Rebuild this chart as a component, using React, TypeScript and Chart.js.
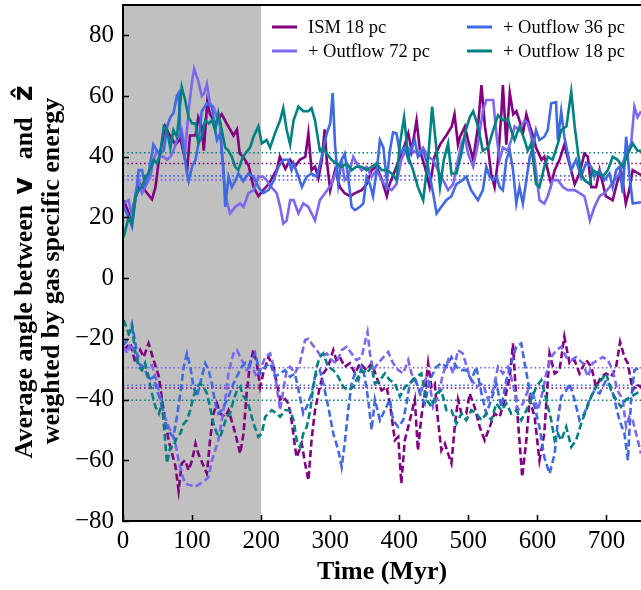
import React, { useEffect, useRef } from 'react';
import { Chart, registerables } from 'chart.js';

Chart.register(...registerables);

// ---------- data: [time (Myr), angle (deg)] ----------
// solid lines: positive branch
const ism18Pos: number[][] = [
  [1, 25.7], [10.7, 20.2], [20, 28], [25, 31], [35, 28], [42, 26], [47, 30], [52, 39], [61, 50], [68, 47],
  [76, 44], [83, 46], [90, 39], [93, 36], [97, 47], [105, 47], [109, 53], [114, 50], [117, 42], [122, 58],
  [126, 54], [134, 51], [143, 54], [150, 51], [160, 47], [165, 49], [169, 41], [174, 40], [182, 37], [189, 30],
  [196, 27], [203, 29], [211, 31], [223, 36], [227, 40], [235, 36], [242, 39], [249, 36.7], [256, 39], [264, 40],
  [268.4, 47.7], [273, 35.6], [278, 36.7], [283, 33], [288, 39], [292, 49], [295, 39], [300, 29], [307, 35.6], [314, 30],
  [321, 28], [329, 27], [336, 28], [345.5, 29], [353, 31], [360, 35.6], [367, 36.7], [374, 33], [382, 27], [386, 31],
  [394, 35.6], [401, 40], [408, 44], [413, 47.7], [418, 42], [425, 52], [430, 42], [437, 36.7], [444, 30], [451, 40],
  [459, 44], [468, 47], [476, 50], [480, 54], [485, 44], [488, 46.6], [495, 50], [499.6, 45.5], [507, 39], [514, 50],
  [519, 63.6], [524, 50], [528.5, 43], [533, 34.5], [538, 30], [543, 39], [548, 55], [550, 63.6], [555, 44], [560, 61],
  [565, 54], [569.5, 55], [574, 52], [579, 47.7], [584, 54], [589, 50], [594, 46.6], [598, 43], [606, 39], [610, 40],
  [615, 35.6], [620, 31], [625, 35.6], [632, 39], [639, 44], [646, 38], [654, 31], [661, 34.5], [668, 41], [673, 40],
  [678, 30], [685, 30], [690, 35.6], [699, 27], [709, 25.7], [716, 32], [721, 35.6], [728, 24.6], [733, 29], [738, 35.6],
  [750, 34],
];
const out72Pos: number[][] = [
  [1, 24.6], [8.3, 25.7], [13, 20.2], [18, 28], [22.7, 32.3], [27.5, 28], [32, 30], [39.6, 33.4], [44.4, 39], [49, 42],
  [54, 40], [59, 40], [63.7, 39], [68.5, 40], [73, 42], [78, 45.5], [85, 48.8], [90, 42], [95, 55], [100, 65],
  [103, 69], [109, 65], [114, 60], [117.6, 61], [121.5, 64], [126, 57.6], [131, 56.5], [136, 53], [140.7, 50], [145.6, 33.4],
  [150, 25.7], [155, 21.3], [162.4, 23.5], [169.7, 24.6], [174.5, 23.5], [181.7, 28], [189, 29], [196, 33.4], [203, 33.4], [208, 32.3],
  [215, 30], [222.6, 28], [227.5, 23.5], [232, 18], [237, 19], [242, 25.7], [247, 25.7], [254, 21.3], [261, 24.6], [268.4, 23.5],
  [278, 19], [285, 25.7], [292.5, 28], [302, 31], [309, 35.6], [316.6, 39], [321, 32.3], [326, 33.4], [333.4, 40], [338, 38],
  [345.5, 35.6], [352.7, 36.7], [360, 33.4], [367, 35.6], [374.4, 32.3], [381.6, 30], [389, 29], [396, 31], [403, 39], [410.5, 43],
  [420, 42], [427.4, 41], [434.6, 43], [441.8, 40], [449, 39], [456, 35.6], [463.5, 32.3], [470.7, 29], [478, 31], [485, 39],
  [490, 44.4], [495, 46.6], [499.6, 41], [507, 36.7], [514, 44.4], [521, 55], [526, 58.7], [536, 58.7], [541, 46.6], [545.4, 39],
  [550, 43], [557, 42], [562, 45.5], [567, 50], [574, 48.8], [581.5, 52], [586, 51], [591, 46.6], [596, 39], [603, 25.7],
  [610, 24.6], [615, 27], [622, 32.3], [629.7, 32.3], [637, 30], [644, 29], [654, 29], [661, 28], [668, 27], [673, 22.4],
  [676, 19], [682.7, 23.5], [690, 27], [697, 28], [704.4, 30], [711.6, 32.3], [719, 34.5], [723.6, 38], [728.5, 41], [735.7, 44.4],
  [740.5, 56.5], [745, 53], [750, 55],
];
const out36Pos: number[][] = [
  [1, 23.5], [8.3, 20], [13, 17], [18, 25.7], [22.7, 35.6], [27.5, 35.6], [32, 31], [37, 34.5], [44, 44], [49, 42],
  [54, 41], [59, 42], [64, 50], [68.5, 53], [73, 54.3], [78, 60], [80.5, 61], [83, 48.8], [88, 42], [92.6, 34.5],
  [95, 32], [100, 36.7], [105, 39], [109, 44], [114, 55], [121.5, 57.6], [128.7, 56.5], [133.5, 48.8], [136, 45.5], [140.7, 47.7],
  [145.6, 35.6], [148, 23.5], [152.8, 33.4], [157.6, 30], [162.4, 32], [167, 34.5], [174, 32], [181.7, 34.5], [189, 33.4], [196, 30],
  [203, 28], [210.6, 29], [218, 32], [225, 36.7], [232, 39], [239.5, 39], [244, 35.6], [247, 37.8], [254, 33.4], [259, 30],
  [266, 33.4], [273, 34.5], [280.5, 33.4], [287.6, 40], [295, 47.7], [300, 51], [303.6, 61], [307, 44], [311.7, 31], [316.5, 39],
  [321, 41], [326, 33.4], [331, 23.5], [336, 22.4], [343, 23.5], [348, 24.6], [352.7, 33.4], [357.5, 31], [362, 27], [368, 36.7],
  [372, 45.5], [377, 43], [382, 32], [386.4, 42], [391, 48], [396, 47.7], [401, 41], [408, 43], [413, 39], [417.7, 43],
  [422.5, 45.5], [427, 40], [434.6, 42], [441.8, 36.7], [449, 28], [454, 21.3], [461, 23.5], [468, 25.7], [475.5, 27], [482.7, 31],
  [490, 32], [497, 33.4], [504, 29], [514, 25.7], [521, 29], [526, 36.7], [531, 33.4], [536, 32.3], [541, 33.4], [545.4, 30],
  [550, 29], [555, 39], [560, 42], [564.7, 35.6], [569.5, 24.6], [574, 30], [579, 24.6], [584, 32.3], [589, 40], [593.6, 43],
  [598, 48.8], [603, 45.5], [610, 46.6], [615, 48.8], [620, 57.6], [627, 58], [629.7, 45.5], [634.5, 55], [639, 46.6], [644, 41],
  [649, 35.6], [656, 39], [663, 33.4], [670.6, 38], [678, 36.7], [682.7, 33.4], [690, 35.6], [697, 32.3], [704.4, 34.5], [709, 30],
  [714, 35.6], [719, 36.7], [723.6, 28], [728.5, 46.6], [733, 34.5], [738, 24.6], [750, 25],
];
const out18Pos: number[][] = [
  [1, 13.6], [8.3, 20.2], [13, 18], [18, 26.8], [22.7, 29], [27.5, 30], [32, 33.4], [37, 34.5], [44.4, 39], [49, 37.8],
  [54, 41], [59, 50], [63.7, 48.8], [68.5, 43], [73, 48.8], [78, 46.6], [80.5, 52], [85, 63], [90, 58.7], [95, 53],
  [100, 51], [105, 51], [109, 44.4], [114, 46.6], [119, 52], [124, 51], [128.7, 52], [133.5, 48.8], [138, 54.3], [143, 48.8],
  [148, 43], [152.8, 42], [157.6, 40], [162.4, 36.7], [167, 35.6], [172, 39], [176.9, 41], [184, 43], [189, 46.6], [196, 50],
  [201, 44.4], [208, 45.5], [213, 43], [220, 47.7], [227.5, 52], [232, 56], [237, 48.8], [242, 44], [247, 52], [254, 56.5],
  [261, 55], [268.4, 55], [273, 56], [278, 52], [285, 42], [290, 43], [295, 41], [302, 39], [309, 37.8], [316.6, 36.7],
  [324, 37.8], [331, 35.6], [338, 36.7], [345.5, 36.7], [352.7, 35.6], [360, 36.7], [367, 37.8], [374.4, 35.6], [381.6, 35.6], [389, 34.5],
  [396, 32.3], [401, 44.4], [407, 53], [413, 40], [420, 35.6], [427, 30], [434.6, 25.7], [442, 40], [447.6, 56.5], [454, 42],
  [459, 30], [464.5, 39], [470.7, 44.4], [475.5, 34.5], [482.7, 34.5], [490, 41], [495, 47.7], [502, 53], [507, 55], [514, 50],
  [521, 42], [528.5, 43], [536, 48.8], [543, 53.7], [550, 52], [557, 52.6], [562, 48.8], [567, 45.5], [574, 50], [581.5, 45.5],
  [586, 42], [591, 44.4], [598, 31], [603, 30], [610, 36.7], [615, 40], [622, 39], [629.7, 44.4], [634.5, 48.8], [642, 50],
  [649, 61.4], [654, 50], [659, 41], [663.4, 34.5], [668, 32.3], [675.5, 31], [680, 35.6], [687.5, 34.5], [694.7, 33.4], [702, 35.6],
  [709, 40], [716, 39], [723.6, 36.7], [731, 41], [738, 44.4], [745, 42], [750, 42],
];

// dashed lines: negative branch
const ism18Neg: number[][] = [
  [1, -23.7], [10.7, -21.5], [18, -28], [25, -23.7], [30, -26], [37, -21.5], [44.4, -27], [52, -32.5], [56.5, -40], [61, -46.8],
  [66, -53.4], [71, -57.8], [76, -62], [80.5, -70], [85, -61], [90, -60], [95, -63.3], [100, -60], [105, -54.5], [109, -57.8],
  [117, -62], [121.5, -64.4], [126, -53.4], [131, -44.6], [136, -41.3], [140.7, -44.6], [148, -45.7], [152.8, -43.5], [160, -49], [165, -53.4],
  [169.7, -57.8], [174.5, -51.2], [179, -38], [184, -28], [189, -23.7], [193.7, -28], [198.6, -35.8], [203, -31.4], [210.6, -26], [218, -29.2],
  [222.6, -34.7], [227.5, -40], [232, -39], [239.5, -41.3], [244, -46.8], [249, -55.6], [251.5, -59], [258.8, -54.5], [263.6, -61], [268.4, -66.6],
  [273, -53.4], [278, -43.5], [285, -35.8], [290, -31.4], [297, -29.2], [304.5, -23.7], [309, -27], [314, -26], [321, -29.2], [328.6, -28],
  [336, -31.4], [343, -28], [352.7, -30.3], [360, -28], [367, -32.5], [374.4, -37], [381.6, -35.8], [386.4, -41.3], [393.6, -53.4], [398.5, -52.3],
  [403, -67.7], [408, -53.4], [413, -49], [417.7, -44.6], [422.5, -40], [427, -56.7], [432, -45.7], [437, -38], [441.8, -28], [446.6, -35.8],
  [451.4, -34.7], [456, -46.8], [461, -56.7], [466, -54.5], [470.7, -57.8], [475.5, -61], [480.3, -49], [485, -40], [490, -44.6], [497, -44.6],
  [502, -38], [509, -42.4], [516.5, -49], [523.7, -53.4], [531, -49], [538, -44.6], [545.4, -45.7], [552.6, -40], [560, -32.5], [564.6, -21.5],
  [569.4, -40], [574, -53.4], [578, -65.5], [584, -53.4], [588.7, -40], [596, -45.7], [603, -60], [610, -51.2], [617.6, -24.8], [625, -31.4],
  [632, -30.3], [639, -19.3], [646.5, -28], [653.7, -27], [661, -31.4], [670.6, -27], [678, -29.2], [685, -35.8], [692.3, -32.5], [699.5, -31.4],
  [706.7, -32.5], [714, -29.2], [719.7, -21], [726, -26], [730.8, -28], [738, -37], [743, -35], [750, -35.8],
];
const out72Neg: number[][] = [
  [1, -22.6], [6, -24.8], [10.7, -21.5], [15.5, -23.7], [22.7, -28], [30, -29.2], [37, -29.2], [42, -28.7], [47, -32.5], [52, -37],
  [56.5, -42.4], [61, -45.7], [66, -49], [71, -51.2], [76, -54.5], [80.5, -60], [85, -64.4], [90, -67.7], [97.4, -68.2], [104.6, -68.8],
  [111.8, -67.7], [119, -66.6], [124, -65.5], [128.7, -60], [133.5, -56.7], [138, -53.4], [143, -46.8], [148, -40], [152.8, -31.4], [155, -29.2],
  [160, -24.8], [165, -23.7], [169.7, -26], [174.5, -28], [179, -30.3], [184, -29.2], [189, -30.3], [193.7, -32.5], [198.6, -30.3], [205.8, -26],
  [213, -24.8], [218, -29.2], [222.6, -35.8], [227.5, -43.5], [232, -37], [237, -30.3], [242, -29.2], [249, -31.4], [256, -28], [263.6, -20.4],
  [268.4, -20], [273, -21.5], [280.5, -23.7], [287.6, -26], [295, -24.8], [302, -27], [309, -28], [316.6, -23.7], [324, -22.6], [331, -24.8],
  [338, -27], [345.5, -26], [350, -21.5], [354, -17.7], [357.5, -24.8], [362, -30.3], [369.5, -28], [377, -26], [384, -24.3], [391, -28],
  [398.5, -30.3], [405.7, -31.4], [413, -27], [417.7, -31.4], [425, -34.7], [432, -37], [439.4, -32.5], [444, -34.7], [449, -42.4], [456, -39],
  [463.5, -31.4], [470.7, -27], [478, -31.4], [485, -23.7], [492, -24.8], [502, -32.5], [511.6, -35.8], [521.3, -34.7], [528.5, -40], [535.7, -37],
  [543, -29.2], [550, -31.4], [557.4, -29.2], [564.6, -34.7], [571.9, -43.5], [579, -41.3], [586.3, -37], [593.6, -38], [600.8, -43.5], [608, -37],
  [612.8, -31.4], [620, -26], [627.3, -23.7], [634.5, -22.6], [641.7, -26], [649, -27], [656, -26], [665.8, -28], [673, -32.5], [680, -28],
  [687.5, -27], [694.7, -26], [702, -27], [709, -30.3], [716, -37], [723.6, -40], [728.4, -49], [733, -45.7], [738, -46.8], [743, -51.2],
  [750, -57.8],
];
const out36Neg: number[][] = [
  [1, -22], [6, -20.4], [13, -15], [18, -21.5], [22.7, -28], [27.5, -29.2], [32, -30.3], [37, -33.6], [44.4, -32.5], [49, -37],
  [54, -40], [59, -45.7], [63.7, -49], [68.5, -51.2], [73, -52.3], [78, -45.7], [83, -38], [88, -29.2], [92.6, -24.8], [97.4, -29.2],
  [102, -35.8], [107, -39], [111.8, -34.7], [119, -28], [124, -30.3], [128.7, -34.7], [133.5, -41.3], [138, -44.6], [143, -43.5], [148, -41.3],
  [152.8, -39], [160, -34.7], [167, -31.4], [172, -29.2], [176.9, -28], [181.7, -29.2], [186.5, -27], [191.3, -24.8], [198.6, -31.4], [205.8, -29.2],
  [213, -28], [220, -32.5], [227.5, -31.4], [234.6, -30.3], [242, -32.5], [249, -31.4], [256, -39], [261, -44.6], [266, -42.4], [273, -38],
  [278, -32.5], [285, -30.3], [290, -34.7], [295, -40], [300, -45.7], [304.5, -51.2], [311.7, -56.7], [316.6, -62.2], [321, -54.5], [326, -43.5],
  [331, -34.7], [336, -31.4], [341, -33.6], [345.5, -29.2], [350, -32.5], [355, -40], [360, -50], [364.7, -40], [372, -46.8], [379, -43.5],
  [386.4, -40], [391, -46.8], [398.4, -49], [405.7, -46.8], [410.5, -41.3], [415.3, -34.7], [422.5, -32.5], [429.8, -38], [437, -41.3], [444, -33.6],
  [453.8, -29.2], [461, -28], [468, -29.2], [475.5, -26], [482.7, -29.2], [490, -30.3], [497, -30.3], [504.4, -33.6], [511.6, -29.2], [519, -38],
  [526, -44.6], [533.3, -40], [540.5, -34.7], [547.8, -42.4], [555, -33.6], [562.2, -28], [569.4, -22.6], [576.7, -21.5], [581.5, -28], [588.7, -37],
  [596, -42.4], [603, -49], [610, -59], [617.6, -64.4], [625, -57.8], [629.7, -46.8], [634.5, -39], [641.7, -37], [646.5, -34.7], [653.7, -40],
  [661, -46.8], [668, -44.6], [675.4, -40], [682.6, -37], [690, -38], [694.7, -35.8], [699.5, -33.6], [706.7, -35.8], [711.5, -40], [718.8, -46.8],
  [726, -51.2], [731, -60], [735.6, -40], [740.5, -30.3], [750, -29.2],
];
const out18Neg: number[][] = [
  [1, -13.8], [8.3, -18.2], [13, -16], [18, -24.8], [22.7, -29.2], [27.5, -30.3], [32, -28], [37, -32.5], [42, -38], [47, -42.4],
  [52, -44.6], [56.5, -41.3], [61, -53.4], [63.7, -61], [68.5, -55.6], [73, -55.6], [78, -52.3], [83, -51.2], [88, -47.9], [92.6, -46.8],
  [97.4, -43.5], [102, -39], [107, -35.8], [111.8, -34.7], [116.7, -35.8], [121.5, -38], [126, -42.4], [131, -47.9], [136, -51.2], [140.7, -52.3],
  [145.6, -49], [150, -45.7], [155, -44.6], [160, -40.2], [165, -37], [169.7, -35.8], [174.5, -39], [179, -40.2], [184, -43.5], [189, -47.9],
  [196, -52.3], [201, -51.2], [205.8, -45.7], [210.6, -44.6], [215.4, -43.5], [222.6, -44.6], [227.5, -45.7], [234.6, -43.5], [242, -43.5], [247, -46.8],
  [251.5, -53.4], [256.4, -55.6], [261, -51.2], [266, -49], [271, -43.5], [275.6, -35.8], [280.5, -29.2], [285, -26], [290, -24.8], [297, -29.2],
  [304.5, -30.3], [311.7, -32.5], [319, -35.8], [326, -37], [333.4, -35.8], [338, -33.6], [345.5, -30.3], [352.7, -31.4], [360, -29.2], [364.7, -34.7],
  [372, -33.6], [379, -31.4], [386.4, -33.6], [393.6, -34.7], [401, -39], [408, -35.8], [415.3, -34.7], [425, -32.5], [432, -31.4], [439.4, -40],
  [446.6, -42.4], [453.8, -38], [461, -37], [468.3, -43.5], [475.5, -43.5], [482.7, -47.9], [490, -44.6], [497, -46.8], [504.4, -43.5], [511.6, -44.6],
  [519, -46.8], [526, -44.6], [533.3, -46.8], [540.5, -41.3], [547.8, -43.5], [555, -41.3], [562.2, -44.6], [569.4, -43.5], [576.7, -46.8], [584, -43.5],
  [591, -40], [598.4, -35.8], [605.6, -33.6], [612.8, -40], [620, -46.8], [625, -53.4], [629.7, -51.2], [634.5, -53.4], [641.7, -49], [649, -55.6],
  [656, -53.4], [663.4, -47.9], [670.6, -43.5], [677.8, -39], [685, -35.8], [692.3, -33.6], [699.5, -31.4], [706.7, -37], [714, -40], [721, -42.4],
  [728.4, -40], [735.6, -39], [743, -38], [750, -37],
];

// time-averaged values (dotted lines)
const meanPos = [37.8, 32.4, 33.7, 41.3]; // ISM18, Out72, Out36, Out18
const meanNeg = [-36.2, -29.5, -35.3, -40.2];

const labels = ['ISM 18 pc', '+ Outflow 72 pc', '+ Outflow 36 pc', '+ Outflow 18 pc'];
const colors = ['#800080', '#7b68ee', '#4169e1', '#008080'];
const posSeries = [ism18Pos, out72Pos, out36Pos, out18Pos];
const negSeries = [ism18Neg, out72Neg, out36Neg, out18Neg];

const shadedRange = [0, 200];
const xRange = [0, 750];
const yRange = [-80, 90];
const xTicks = [0, 100, 200, 300, 400, 500, 600, 700];
const yTicks = [-80, -60, -40, -20, 0, 20, 40, 60, 80];

// ---------- styling ----------
const SERIF = '"Liberation Serif", "Times New Roman", serif';
const SANS = '"DejaVu Sans", sans-serif';

const decoPlugin = {
  id: 'deco',
  beforeDatasetsDraw(chart: any) {
    const { ctx, chartArea, scales } = chart;
    const x0 = scales.x.getPixelForValue(shadedRange[0]);
    const x1 = scales.x.getPixelForValue(shadedRange[1]);
    ctx.save();
    ctx.fillStyle = '#c0c0c0';
    ctx.fillRect(x0, chartArea.top, x1 - x0, chartArea.bottom - chartArea.top);
    ctx.restore();
  },
  afterDatasetsDraw(chart: any) {
    const { ctx, chartArea, scales } = chart;
    const { left, right, top, bottom } = chartArea;
    ctx.save();
    ctx.strokeStyle = '#000';
    ctx.lineWidth = 2;
    ctx.beginPath();
    ctx.moveTo(left, top);
    ctx.lineTo(right + 2, top);
    ctx.moveTo(left, top - 1);
    ctx.lineTo(left, bottom + 1);
    ctx.moveTo(left - 1, bottom);
    ctx.lineTo(right + 2, bottom);
    ctx.stroke();
    ctx.lineWidth = 1.5;
    ctx.beginPath();
    yTicks.forEach((v) => {
      const py = Math.round(scales.y.getPixelForValue(v)) + 0.5;
      ctx.moveTo(left, py);
      ctx.lineTo(left + 6, py);
    });
    xTicks.forEach((v) => {
      const px = Math.round(scales.x.getPixelForValue(v)) + 0.5;
      ctx.moveTo(px, bottom);
      ctx.lineTo(px, bottom - 6);
    });
    ctx.stroke();

    // legend, 2 columns filled column-wise
    const colX = [272, 467];
    const rowY = [27, 51];
    ctx.font = `18.5px ${SERIF}`;
    ctx.textBaseline = 'middle';
    ctx.textAlign = 'left';
    labels.forEach((lab, i) => {
      const lx = colX[Math.floor(i / 2)];
      const ly = rowY[i % 2];
      ctx.strokeStyle = colors[i];
      ctx.lineWidth = 3;
      ctx.beginPath();
      ctx.moveTo(lx, ly);
      ctx.lineTo(lx + 25, ly);
      ctx.stroke();
      ctx.fillStyle = '#000';
      ctx.fillText(lab, lx + 36, ly + 1);
    });
    ctx.restore();
  },
  afterDraw(chart: any) {
    const { ctx, chartArea } = chart;
    ctx.save();
    ctx.fillStyle = '#000';
    ctx.font = `bold 26px ${SERIF}`;
    ctx.textAlign = 'center';
    ctx.textBaseline = 'middle';
    ctx.fillText('Time (Myr)', (chartArea.left + 641) / 2, 572);

    // rotated multi-font line; gaps[i] is the space after segment i
    const drawRich = (segs: { t: string; f: string }[], gaps: number[], cx: number, cy: number) => {
      ctx.save();
      ctx.translate(cx, cy);
      ctx.rotate(-Math.PI / 2);
      let total = 0;
      segs.forEach((s, i) => {
        ctx.font = s.f;
        total += ctx.measureText(s.t).width + (i < segs.length - 1 ? gaps[i] || 0 : 0);
      });
      let x = -total / 2;
      ctx.textAlign = 'left';
      ctx.textBaseline = 'middle';
      segs.forEach((s, i) => {
        ctx.font = s.f;
        ctx.fillText(s.t, x, 0);
        x += ctx.measureText(s.t).width + (gaps[i] || 0);
      });
      ctx.restore();
    };
    const bSerif = `bold 26px ${SERIF}`;
    const bSans = `bold 27px ${SANS}`;
    drawRich(
      [
        { t: 'Average angle between', f: bSerif },
        { t: 'v', f: bSans },
        { t: 'and', f: bSerif },
        { t: 'ẑ', f: bSans },
      ],
      [10, 18, 16],
      25,
      272,
    );
    drawRich([{ t: 'weighted by gas specific energy', f: bSerif }], [], 52, 271);
    ctx.restore();
  },
};

export default function App() {
  const ref = useRef<HTMLCanvasElement | null>(null);

  useEffect(() => {
    if (!ref.current) return;
    const datasets: any[] = [];
    colors.forEach((c, i) => {
      [meanPos[i], meanNeg[i]].forEach((m) => {
        datasets.push({
          data: [
            { x: xRange[0], y: m },
            { x: xRange[1], y: m },
          ],
          borderColor: c,
          borderWidth: 1.6,
          borderDash: [1.6, 2.6],
          pointRadius: 0,
          order: 20,
        });
      });
    });
    colors.forEach((c, i) => {
      datasets.push({
        label: labels[i],
        data: posSeries[i].map((p) => ({ x: p[0], y: p[1] })),
        borderColor: c,
        borderWidth: 2.6,
        pointRadius: 0,
        tension: 0,
        order: 10 - i,
      });
      datasets.push({
        label: labels[i] + ' (neg)',
        data: negSeries[i].map((p) => ({ x: p[0], y: p[1] })),
        borderColor: c,
        borderWidth: 2.6,
        borderDash: [7, 3.5],
        pointRadius: 0,
        tension: 0,
        order: 10 - i,
      });
    });

    const tickFont = { family: SERIF, size: 25 };
    const chart = new Chart(ref.current, {
      type: 'line',
      data: { datasets },
      plugins: [decoPlugin],
      options: {
        animation: false,
        responsive: false,
        events: [],
        layout: { padding: { top: 5, right: 0, left: 0, bottom: 0 } },
        plugins: { legend: { display: false }, tooltip: { enabled: false } },
        scales: {
          x: {
            type: 'linear',
            min: xRange[0],
            max: xRange[1],
            grid: { display: false, drawTicks: false },
            border: { display: false },
            afterFit: (s: any) => {
              s.height = 69;
              s.paddingLeft = 0;
              s.paddingRight = 0;
            },
            afterBuildTicks: (s: any) => {
              s.ticks = xTicks.map((v) => ({ value: v }));
            },
            ticks: {
              font: tickFont,
              color: '#000',
              padding: 5,
              maxRotation: 0,
              autoSkip: false,
              callback: (v: any) => String(v),
            },
          },
          y: {
            type: 'linear',
            min: yRange[0],
            max: yRange[1],
            grid: { display: false, drawTicks: false },
            border: { display: false },
            afterFit: (s: any) => {
              s.width = 123;
              s.paddingTop = 0;
              s.paddingBottom = 0;
            },
            afterBuildTicks: (s: any) => {
              s.ticks = yTicks.map((v) => ({ value: v }));
            },
            ticks: {
              font: tickFont,
              color: '#000',
              padding: 9,
              autoSkip: false,
              callback: (v: any) => String(v).replace('-', '\u2212'),
            },
          },
        },
      },
    });
    return () => chart.destroy();
  }, []);

  return (
    <div style={{ position: 'absolute', left: 0, top: 0, width: 641, height: 590, background: '#fff' }}>
      <canvas ref={ref} width={641} height={590} />
    </div>
  );
}
